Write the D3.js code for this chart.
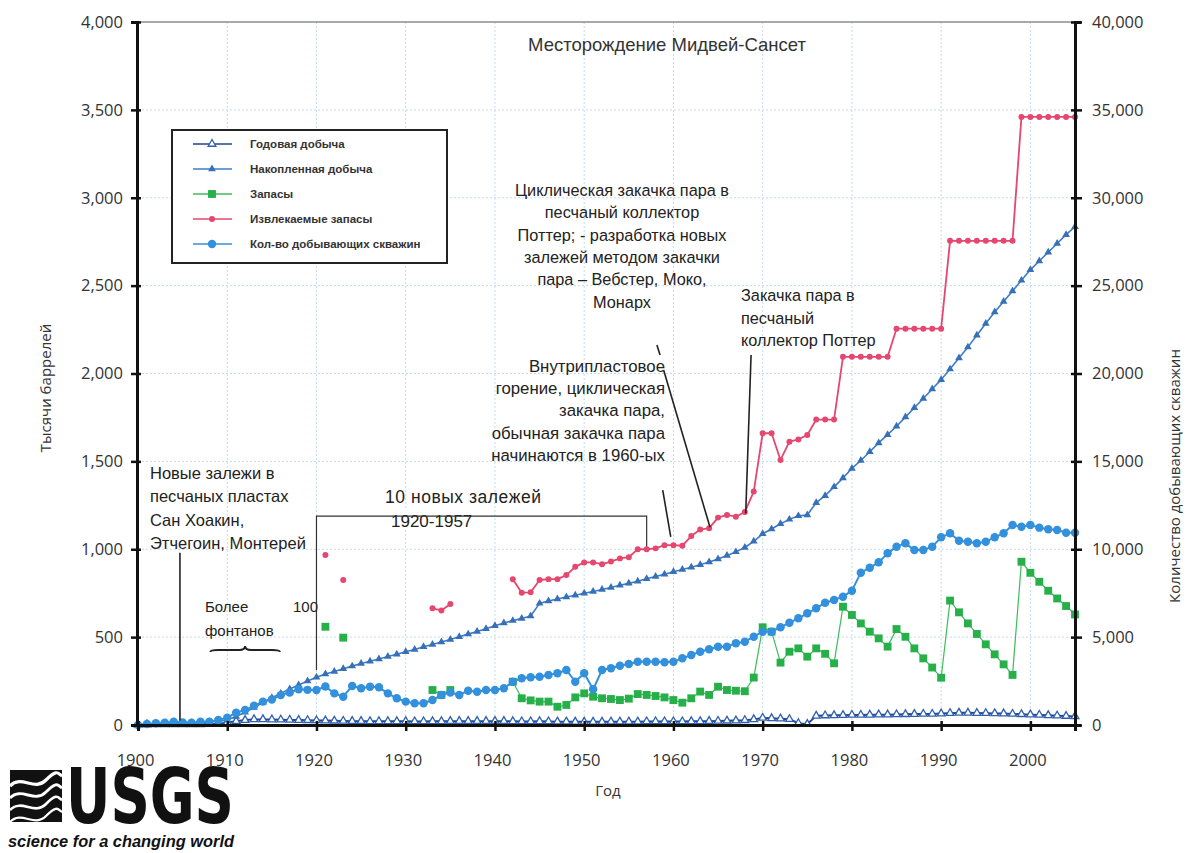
<!DOCTYPE html>
<html>
<head>
<meta charset="utf-8">
<script src="https://cdn.jsdelivr.net/npm/d3@7"></script>
<style>
body { margin: 0; background: #fff; }
</style>
</head>
<body>
<script>
var width = 1186, height = 853;

// years on the x axis
var years = d3.range(1900, 2006);

// tick labels
var xTicks = [1900, 1910, 1920, 1930, 1940, 1950, 1960, 1970, 1980, 1990, 2000];
var yTicks = [0, 500, 1000, 1500, 2000, 2500, 3000, 3500, 4000];
var yRightTicks = [0, 5000, 10000, 15000, 20000, 25000, 30000, 35000, 40000];

// Годовая добыча, тыс. баррелей
var annual = [2,2,3,3,3,3,4,4,5,6,
  14,22,28,32,32,31,30,29,28,27,
  26,25,24,23,22,22,21,21,21,21,
  21,20,20,21,21,22,22,22,22,22,
  22,22,21,20,20,21,20,19,19,18,
  18,18,18,19,19,19,19,20,20,20,
  20,20,21,21,22,23,24,25,27,32,
  40,38,36,33,10,5,52,54,55,56,
  57,57,58,59,59,60,61,62,63,63,
  65,67,69,69,68,67,66,65,63,61,
  59,57,55,53,51,49];

// Накопленная добыча, тыс. баррелей
var cumulative = [0,2,3,5,7,9,11,14,17,21,
  30,48,72,100,128,155,180,205,228,250,
  272,290,305,320,335,350,363,376,390,403,
  417,430,445,458,472,487,502,517,532,548,
  565,580,594,606,620,692,705,717,728,738,
  750,760,771,782,795,806,818,832,845,858,
  872,885,898,912,928,945,965,985,1010,1045,
  1088,1115,1145,1170,1190,1195,1265,1305,1355,1405,
  1460,1505,1555,1605,1652,1700,1752,1805,1858,1912,
  1965,2025,2088,2150,2218,2285,2350,2410,2470,2530,
  2590,2640,2690,2740,2790,2835];

// Запасы, тыс. баррелей
var reserves = [null,null,null,null,null,null,null,null,null,null,
  null,null,null,null,null,null,null,null,null,null,
  null,559,null,497,null,null,null,null,null,null,
  null,null,null,199,171,199,null,null,null,null,
  null,null,246,152,140,133,133,104,114,157,
  180,161,152,148,142,150,176,171,165,157,
  142,127,152,190,171,218,199,195,192,270,
  556,531,355,417,436,389,436,405,351,673,
  626,578,531,493,446,546,502,436,379,327,
  269,708,641,578,518,459,402,345,285,929,
  866,815,764,720,677,629];

// Извлекаемые запасы, тыс. баррелей
var recoverable = [null,null,null,null,null,null,null,null,null,null,
  null,null,null,null,null,null,null,null,null,null,
  null,967,null,825,null,null,null,null,null,null,
  null,null,null,664,652,688,null,null,null,null,
  null,null,829,753,755,825,830,830,853,900,
  925,925,915,930,948,955,1000,1000,1005,1023,
  1023,1020,1075,1112,1120,1180,1195,1185,1212,1328,
  1660,1660,1508,1612,1625,1650,1738,1738,1738,2095,
  2095,2095,2095,2095,2095,2255,2255,2255,2255,2255,
  2255,2755,2755,2755,2755,2755,2755,2755,2755,3460,
  3460,3460,3460,3460,3460,3460];

// Кол-во добывающих скважин
var wells = [0,60,100,130,180,150,130,190,190,280,
  420,700,860,1090,1330,1450,1700,1850,2030,2000,
  1990,2190,1800,1610,2220,2090,2180,2145,1800,1520,
  1330,1235,1235,1420,1710,1850,1707,1953,1897,1990,
  1990,2086,2466,2655,2712,2750,2845,2940,3130,2466,
  2940,2030,3130,3225,3376,3470,3604,3604,3604,3566,
  3604,3793,3983,4173,4305,4457,4457,4647,4742,5026,
  5310,5310,5557,5822,6070,6353,6638,6960,7112,7301,
  7643,8667,8952,9255,9767,10147,10337,9957,9957,10147,
  10678,10906,10489,10432,10337,10432,10678,10906,11380,11285,
  11380,11229,11134,11096,10944,10944];

var svg = d3.select('body').append('svg').attr('width', width).attr('height', height);

var x = d3.scaleLinear().domain([1900, 2005]).range([138, 1075]);
var y = d3.scaleLinear().domain([0, 4000]).range([725, 22]);
var yR = d3.scaleLinear().domain([0, 40000]).range([725, 22]);

var tickFont = '"Open Sans", "DejaVu Sans", sans-serif';
var textFont = '"Liberation Sans", Arial, sans-serif';

// grid
var grid = svg.append('g');
grid.selectAll('.vg').data(xTicks.slice(1)).join('line')
  .attr('x1', d => x(d)).attr('x2', d => x(d))
  .attr('y1', y(4000)).attr('y2', y(0))
  .attr('stroke', '#c4dbec').attr('stroke-width', 1).attr('stroke-dasharray', '2,2');
grid.selectAll('.hg').data(yTicks.slice(1, -1)).join('line')
  .attr('x1', x(1900)).attr('x2', x(2005))
  .attr('y1', d => y(d)).attr('y2', d => y(d))
  .attr('stroke', '#c4dbec').attr('stroke-width', 1).attr('stroke-dasharray', '2,2');

// top border
svg.append('line')
  .attr('x1', x(1900)).attr('x2', x(2005)).attr('y1', y(4000)).attr('y2', y(4000))
  .attr('stroke', '#8c8c8c').attr('stroke-width', 1.5);

// series
function rows(values) {
  return years.map((yr, i) => ({year: yr, v: values[i]}));
}

function drawLine(values, scale, color, w) {
  var line = d3.line().defined(d => d.v != null).x(d => x(d.year)).y(d => scale(d.v));
  svg.append('path').datum(rows(values))
    .attr('fill', 'none').attr('stroke', color).attr('stroke-width', w)
    .attr('stroke-linejoin', 'round').attr('d', line);
}

function drawMarks(values, scale, sym, size, fill, stroke, sw) {
  svg.append('g').selectAll('path')
    .data(rows(values).filter(d => d.v != null))
    .join('path')
    .attr('transform', d => 'translate(' + x(d.year) + ',' + scale(d.v) + ')')
    .attr('d', d3.symbol(sym, size))
    .attr('fill', fill).attr('stroke', stroke).attr('stroke-width', sw);
}

var series = [
  {name: 'Годовая добыча', values: annual, scale: y, line: '#22458c', lw: 2,
   sym: d3.symbolTriangle, size: 26, fill: '#fff', stroke: '#2f5fae', sw: 1.3},
  {name: 'Накопленная добыча', values: cumulative, scale: y, line: '#3d7cc4', lw: 1.6,
   sym: d3.symbolTriangle, size: 26, fill: '#3670b8', stroke: 'none', sw: 0},
  {name: 'Запасы', values: reserves, scale: y, line: '#3cbc5a', lw: 1.2,
   sym: d3.symbolSquare, size: 62, fill: '#27b04a', stroke: 'none', sw: 0},
  {name: 'Извлекаемые запасы', values: recoverable, scale: y, line: '#e5476f', lw: 1.8,
   sym: d3.symbolCircle, size: 28, fill: '#e5476f', stroke: 'none', sw: 0},
  {name: 'Кол-во добывающих скважин', values: wells, scale: yR, line: '#3390dc', lw: 2,
   sym: d3.symbolCircle, size: 56, fill: '#3390dc', stroke: 'none', sw: 0}
];

series.forEach(s => {
  drawLine(s.values, s.scale, s.line, s.lw);
  drawMarks(s.values, s.scale, s.sym, s.size, s.fill, s.stroke, s.sw);
});

// axes
function styleAxis(g) {
  g.select('.domain').attr('stroke', '#111').attr('stroke-width', 3);
  g.selectAll('.tick line').attr('stroke', '#111').attr('stroke-width', 2.5);
  g.selectAll('.tick text').attr('fill', '#333');
  g.attr('font-family', tickFont).attr('font-size', 16.5);
}

var left = svg.append('g').attr('transform', 'translate(' + (x(1900) - 1) + ',0)')
  .call(d3.axisLeft(y).tickValues(yTicks).tickFormat(d3.format(',')).tickSizeOuter(0).tickSize(6).tickPadding(8));
styleAxis(left);
left.selectAll('.tick line').attr('x2', -6).attr('x1', 4);

var right = svg.append('g').attr('transform', 'translate(' + x(2005) + ',0)')
  .call(d3.axisRight(yR).tickValues(yRightTicks).tickFormat(d3.format(',')).tickSizeOuter(0).tickSize(6).tickPadding(11));
styleAxis(right);
right.selectAll('.tick line').attr('x1', -4).attr('x2', 7);

var bottom = svg.append('g').attr('transform', 'translate(0,' + y(0) + ')')
  .call(d3.axisBottom(x).tickValues(xTicks).tickFormat(d3.format('d')).tickSizeOuter(0).tickSize(6).tickPadding(23));
styleAxis(bottom);
bottom.selectAll('.tick line').attr('y1', -4).attr('y2', 6);
bottom.selectAll('.tick text').attr('dx', -3);

// titles
svg.append('text').attr('x', 667).attr('y', 51).attr('text-anchor', 'middle')
  .attr('font-family', textFont).attr('font-size', 18.5).attr('fill', '#333')
  .text('Месторождение Мидвей-Сансет');

svg.append('text').attr('transform', 'translate(51,388) rotate(-90)').attr('text-anchor', 'middle')
  .attr('font-family', tickFont).attr('font-size', 15).attr('fill', '#333')
  .text('Тысячи баррелей');

svg.append('text').attr('transform', 'translate(1180,476) rotate(-90)').attr('text-anchor', 'middle')
  .attr('font-family', tickFont).attr('font-size', 15).attr('fill', '#333')
  .text('Количество добывающих скважин');

svg.append('text').attr('x', 608).attr('y', 796).attr('text-anchor', 'middle')
  .attr('font-family', tickFont).attr('font-size', 15).attr('fill', '#333')
  .text('Год');

// legend
var legend = svg.append('g').attr('transform', 'translate(172,130)');
legend.append('rect').attr('width', 275).attr('height', 133)
  .attr('fill', '#fff').attr('stroke', '#222').attr('stroke-width', 2);
var item = legend.selectAll('.item').data(series).join('g')
  .attr('transform', (d, i) => 'translate(0,' + (14 + i * 25) + ')');
item.append('line').attr('x1', 21).attr('x2', 60)
  .attr('stroke', d => d.line).attr('stroke-width', 1.6);
item.append('path').attr('transform', 'translate(40,0)')
  .attr('d', d => d3.symbol(d.sym, d.size)())
  .attr('fill', d => d.fill).attr('stroke', d => d.stroke).attr('stroke-width', d => d.sw);
item.append('text').attr('x', 78).attr('y', 4)
  .attr('font-family', textFont).attr('font-size', 11.5).attr('font-weight', 'bold').attr('fill', '#333')
  .text(d => d.name);

// annotations
var notes = svg.append('g').attr('font-family', textFont).attr('fill', '#222');

function block(lines, px, py, anchor, lh, fs) {
  var t = notes.append('text').attr('text-anchor', anchor).attr('font-size', fs);
  lines.forEach((s, i) => t.append('tspan').attr('x', px).attr('y', py + i * lh).text(s));
}

function leader(y0, v0, y1, v1) {
  svg.append('line')
    .attr('x1', x(y0)).attr('y1', y(v0)).attr('x2', x(y1)).attr('y2', y(v1))
    .attr('stroke', '#222').attr('stroke-width', 1.6);
}

block(['Циклическая закачка пара в', 'песчаный коллектор', 'Поттер; - разработка новых',
  'залежей методом закачки', 'пара – Вебстер, Моко,', 'Монарх'], 622, 196, 'middle', 22.3, 16.3);
block(['Внутрипластовое', 'горение, циклическая', 'закачка пара,',
  'обычная закачка пара', 'начинаются в 1960-ых'], 665, 372, 'end', 22.2, 16.8);
block(['Закачка пара в', 'песчаный', 'коллектор Поттер'], 741, 301, 'start', 22.5, 16.3);
block(['Новые залежи в', 'песчаных пластах', 'Сан Хоакин,', 'Этчегоин, Монтерей'], 150, 479, 'start', 23.3, 16.5);
block(['Более', 'фонтанов'], 205, 612, 'start', 23.5, 15);

leader(1958.15, 2162, 1958.5, 2105);
leader(1958.8, 1337, 1959.7, 1070);
leader(1958.9, 2020, 1964.1, 1125);
leader(1968.7, 2105, 1968.1, 1203);
leader(1904.7, 980, 1904.7, 25);

// bracket 1920-1957
svg.append('path')
  .attr('d', 'M' + x(1920) + ',' + y(313) + 'V' + y(1189) + 'H' + x(1957) + 'V' + y(1015))
  .attr('fill', 'none').attr('stroke', '#333').attr('stroke-width', 1.2);
notes.append('text').attr('x', 385).attr('y', 503).attr('font-size', 17.5)
  .attr('textLength', 156).text('10 новых залежей');
notes.append('rect').attr('x', 389).attr('y', 510).attr('width', 86).attr('height', 19).attr('fill', '#fff');
notes.append('text').attr('x', 391).attr('y', 527).attr('font-size', 17).text('1920-1957');
notes.append('rect').attr('x', 294).attr('y', 597).attr('width', 25).attr('height', 19).attr('fill', '#fff');
notes.append('text').attr('x', 318).attr('y', 612).attr('font-size', 15).attr('text-anchor', 'end').text('100');

// brace under "фонтанов"
var bx0 = x(1908.1), bx1 = x(1915.9), bm = (bx0 + bx1) / 2, by = y(427), bt = y(450);
svg.append('path')
  .attr('d', 'M' + bx0 + ',' + (by + 2) + 'Q' + bx0 + ',' + by + ' ' + (bx0 + 8) + ',' + by +
    'L' + (bm - 6) + ',' + by + 'Q' + bm + ',' + by + ' ' + bm + ',' + bt +
    'Q' + bm + ',' + by + ' ' + (bm + 6) + ',' + by +
    'L' + (bx1 - 8) + ',' + by + 'Q' + bx1 + ',' + by + ' ' + bx1 + ',' + (by + 2))
  .attr('fill', 'none').attr('stroke', '#222').attr('stroke-width', 2);

// USGS logo
var logo = svg.append('g');
logo.append('rect').attr('x', 10).attr('y', 770).attr('width', 52).attr('height', 52).attr('fill', '#111');
[782, 794, 806, 818].forEach((wy, i) => {
  logo.append('path')
    .attr('d', 'M10,' + (wy + 4) + ' C22,' + (wy - 8) + ' 34,' + (wy + 10) + ' 46,' + (wy - 2) + ' S58,' + (wy - 8) + ' 62,' + (wy - 6))
    .attr('fill', 'none').attr('stroke', '#fff').attr('stroke-width', 3.2 - i * 0.3);
});
logo.append('text').attr('x', 66).attr('y', 823)
  .attr('font-family', '"Liberation Sans Narrow", "DejaVu Sans Condensed", "Liberation Sans", sans-serif')
  .attr('font-weight', 'bold').attr('font-size', 76).attr('fill', '#111')
  .attr('textLength', 168).attr('lengthAdjust', 'spacingAndGlyphs')
  .text('USGS');
logo.append('text').attr('x', 8).attr('y', 847)
  .attr('font-family', textFont).attr('font-weight', 'bold').attr('font-style', 'italic')
  .attr('font-size', 17).attr('fill', '#111')
  .attr('textLength', 226).attr('lengthAdjust', 'spacingAndGlyphs')
  .text('science for a changing world');
</script>
</body>
</html>
